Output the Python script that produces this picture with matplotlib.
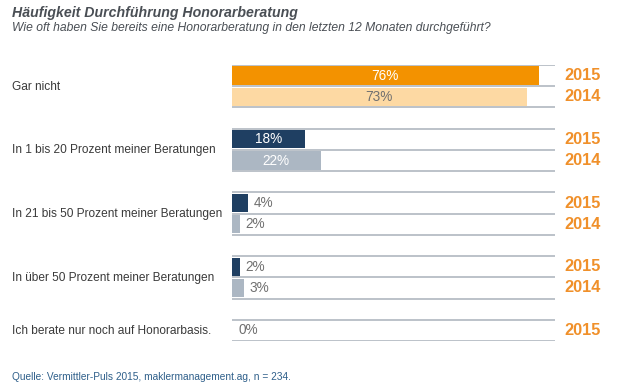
import numpy as np
import matplotlib.pyplot as plt

plt.rcParams['font.family'] = ['Liberation Sans', 'DejaVu Sans']

categories = ["Gar nicht",
              "In 1 bis 20 Prozent meiner Beratungen",
              "In 21 bis 50 Prozent meiner Beratungen",
              "In über 50 Prozent meiner Beratungen",
              "Ich berate nur noch auf Honorarbasis."]
vals_2015 = [76, 18, 4, 2, 0]
vals_2014 = [73, 22, 2, 3, None]
years = ["2015", "2014"]

orange = "#F39200"
orange_light = "#FDD9A3"
navy = "#1F3F62"
greyblue = "#ACB7C3"
linec = "#A9B1BA"
yearc = "#F0902A"

fig = plt.figure(figsize=(6.21, 3.83), dpi=100)
ax = fig.add_axes([232/621, 1 - 341/383, 323/621, 276/383])
ax.set_xlim(0, 80)
ax.set_ylim(13, 0)
ax.axis('off')

for g, cat in enumerate(categories):
    y0 = g * 3
    rows = [(vals_2015[g], years[0]), (vals_2014[g], years[1])]
    nrows = 2 if vals_2014[g] is not None else 1
    # Trennlinien
    for r in range(nrows + 1):
        ax.plot([0, 80], [y0 + r, y0 + r], color=linec, lw=1.1, solid_capstyle='butt')
    for r in range(nrows):
        v, yr = rows[r]
        yc = y0 + r + 0.5
        if g == 0:
            col = orange if r == 0 else orange_light
        else:
            col = navy if r == 0 else greyblue
        ax.barh(yc, v, height=0.86, color=col, edgecolor='none')
        if v >= 10:
            tc = 'white' if not (g == 0 and r == 1) else '#707070'
            ax.text(v / 2, yc, f"{v}%", ha='center', va='center', fontsize=9.8, color=tc)
        else:
            ax.text(v + 1.3 if v > 0 else 1.5, yc, f"{v}%", ha='left', va='center',
                    fontsize=9.8, color='#707070')
        ax.text(82.4, yc, yr, ha='left', va='center', fontsize=11.8, fontweight='bold',
                color=yearc, clip_on=False)
    fig.text(12.5/621, 1 - (65.5 + 63.75 * g + 10.6 * nrows) / 383, cat, ha='left',
             va='center', fontsize=8.6, color='#3A3A3A')

fig.text(12/621, 1 - 12.5/383, "Häufigkeit Durchführung Honorarberatung", ha='left',
         va='center', fontsize=10.2, fontweight='bold', fontstyle='italic', color='#4A4F55')
fig.text(12/621, 1 - 28/383,
         "Wie oft haben Sie bereits eine Honorarberatung in den letzten 12 Monaten durchgeführt?",
         ha='left', va='center', fontsize=8.7, fontstyle='italic', color='#4A4F55')
fig.text(12/621, 1 - 377/383, "Quelle: Vermittler-Puls 2015, maklermanagement.ag, n = 234.",
         ha='left', va='center', fontsize=7.3, color='#2E5F8A')

fig.savefig("out.png", dpi=100)
